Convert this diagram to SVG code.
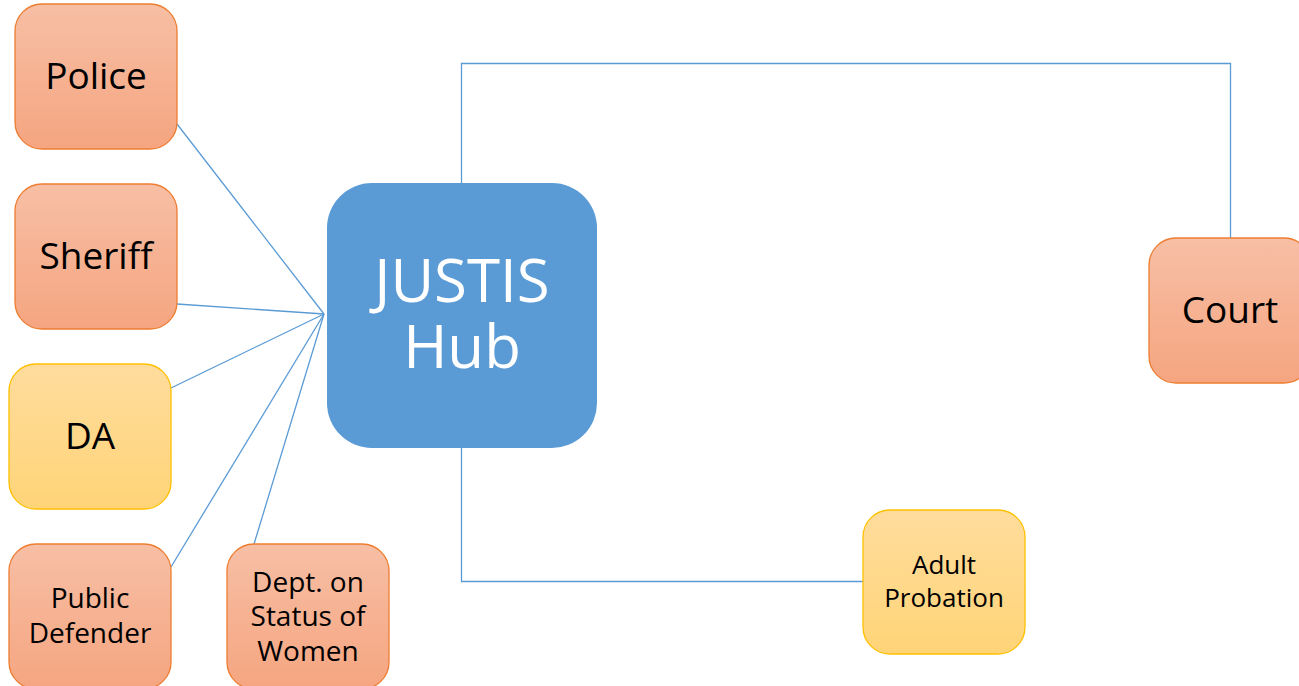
<svg xmlns="http://www.w3.org/2000/svg" width="1299" height="686" viewBox="0 0 1299 686">
<defs>
<linearGradient id="gOr" x1="0" y1="0" x2="0" y2="1">
<stop offset="0" stop-color="#F7BFA5"/>
<stop offset="1" stop-color="#F5A580"/>
</linearGradient>
<linearGradient id="gYe" x1="0" y1="0" x2="0" y2="1">
<stop offset="0" stop-color="#FFDC9C"/>
<stop offset="1" stop-color="#FFD478"/>
</linearGradient>
<style>
.or{fill:url(#gOr);stroke:#ED7D31;stroke-width:1.3}
.ye{fill:url(#gYe);stroke:#FFC000;stroke-width:1.3}
.t{font-family:"Open Sans","Noto Sans","DejaVu Sans",sans-serif;fill:#000;text-anchor:middle}
.c{fill:none;stroke:#5B9BD5;stroke-width:1.3}
</style>
</defs>
<rect width="1299" height="686" fill="#fff"/>
<g id="connectors">
<line class="c" x1="177" y1="124" x2="324" y2="314"/>
<line class="c" x1="177" y1="304" x2="324" y2="314"/>
<line class="c" x1="171" y1="388" x2="324" y2="314"/>
<line class="c" x1="171" y1="567" x2="324" y2="314"/>
<line class="c" x1="254" y1="544" x2="324" y2="314"/>
<polyline class="c" points="461.5,183 461.5,63.5 1230.5,63.5 1230.5,238"/>
<polyline class="c" points="461.5,448 461.5,581.5 863,581.5"/>
</g>
<g id="police">
<rect class="or" x="15" y="4" width="162" height="145" rx="27"/>
<text class="t" x="96" y="89" font-size="37">Police</text>
</g>
<g id="sheriff">
<rect class="or" x="15" y="184" width="162" height="145" rx="27"/>
<text class="t" x="96" y="269" font-size="37">Sheriff</text>
</g>
<g id="da">
<rect class="ye" x="9" y="364" width="162" height="145" rx="27"/>
<text class="t" x="90" y="449" font-size="37">DA</text>
</g>
<g id="public-defender">
<rect class="or" x="9" y="544" width="162" height="145" rx="27"/>
<text class="t" x="90" y="608" font-size="28">Public</text>
<text class="t" x="90" y="643" font-size="28">Defender</text>
</g>
<g id="dept-women">
<rect class="or" x="227" y="544" width="162" height="145" rx="27"/>
<text class="t" x="308" y="592" font-size="28">Dept. on</text>
<text class="t" x="308" y="626" font-size="28">Status of</text>
<text class="t" x="308" y="661" font-size="28">Women</text>
</g>
<g id="hub">
<rect x="327" y="183" width="270" height="265" rx="45" fill="#5B9BD5"/>
<text class="t" x="462" y="302" font-size="60" style="fill:#fff">JUSTIS</text>
<text class="t" x="462" y="368" font-size="60" style="fill:#fff">Hub</text>
</g>
<g id="court">
<rect class="or" x="1149" y="238" width="162" height="145" rx="27"/>
<text class="t" x="1230" y="323" font-size="37">Court</text>
</g>
<g id="adult-probation">
<rect class="ye" x="863" y="510" width="162" height="144" rx="27"/>
<text class="t" x="944" y="574" font-size="26">Adult</text>
<text class="t" x="944" y="607" font-size="26">Probation</text>
</g>
</svg>
